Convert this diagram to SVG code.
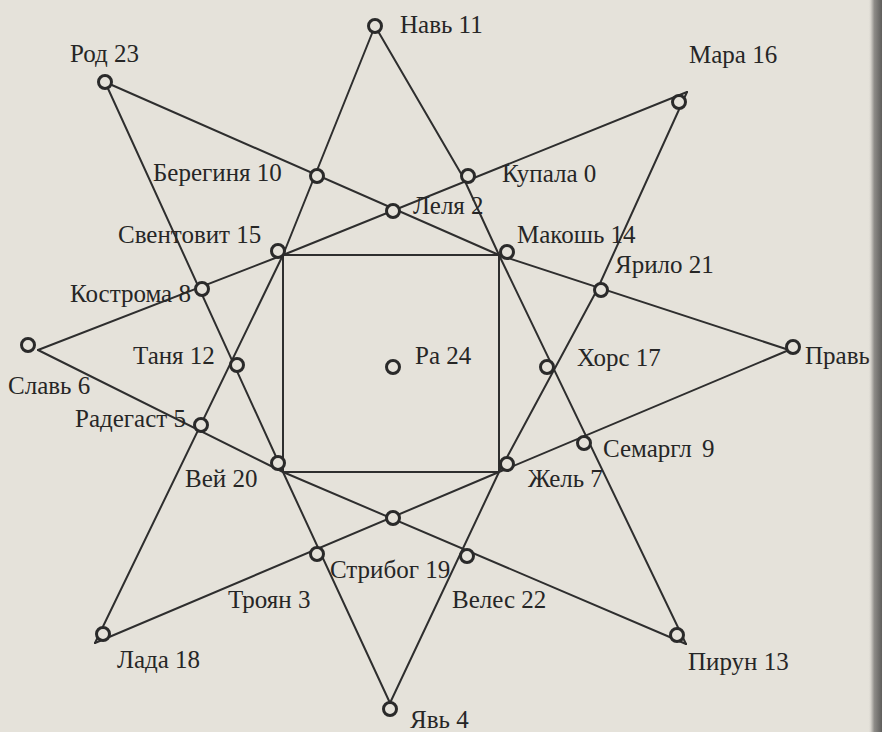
<svg xmlns="http://www.w3.org/2000/svg" width="882" height="732" viewBox="0 0 882 732">
<defs>
<linearGradient id="edge" x1="0" y1="0" x2="1" y2="0">
<stop offset="0" stop-color="#e5e2da" stop-opacity="0"/>
<stop offset="0.2" stop-color="#d4d1ca"/>
<stop offset="0.45" stop-color="#8e8c88"/>
<stop offset="1" stop-color="#5e5d5b"/>
</linearGradient>
<style>
.ln{fill:none;stroke:#2e2e2e;stroke-width:2;stroke-linejoin:round;stroke-linecap:round}
.nd{fill:#e5e2da;stroke:#2a2a2a;stroke-width:3}
.lb{font-family:"Liberation Serif","Times New Roman",serif;font-size:25px;fill:#262626}
</style>
</defs>
<rect x="0" y="0" width="882" height="732" fill="#e5e2da"/>
<g id="connectors">
<rect class="ln" x="283" y="255" width="216" height="217"/>
<polyline class="ln" points="105,82 499,255 789,350"/>
<polyline class="ln" points="375,26 283,255 95,643"/>
<polyline class="ln" points="375,26 463,177 499,255 686,644"/>
<polyline class="ln" points="687,92 283,255 38,350"/>
<polyline class="ln" points="687,92 597,290 499,472 390,703"/>
<polyline class="ln" points="789,350 499,472 95,643"/>
<polyline class="ln" points="686,644 283,472 38,350"/>
<polyline class="ln" points="390,703 283,472 105,82"/>
</g>
<g id="n-nav11"><circle class="nd" cx="375" cy="26" r="6.5"/><text class="lb" x="400" y="33">Навь 11</text></g>
<g id="n-rod23"><circle class="nd" cx="105" cy="82" r="6.5"/><text class="lb" x="70" y="62">Род 23</text></g>
<g id="n-mara16"><circle class="nd" cx="679" cy="102" r="6.5"/><text class="lb" x="689" y="63">Мара 16</text></g>
<g id="n-bereginya10"><circle class="nd" cx="317" cy="176" r="6.5"/><text class="lb" x="153" y="181">Берегиня 10</text></g>
<g id="n-kupala0"><circle class="nd" cx="468" cy="176" r="6.5"/><text class="lb" x="502" y="182">Купала 0</text></g>
<g id="n-lelya2"><circle class="nd" cx="393" cy="211" r="6.5"/><text class="lb" x="413" y="214">Леля 2</text></g>
<g id="n-sventovit15"><circle class="nd" cx="278" cy="251" r="6.5"/><text class="lb" x="118" y="243">Свентовит 15</text></g>
<g id="n-makosh14"><circle class="nd" cx="507" cy="252" r="6.5"/><text class="lb" x="517" y="243">Макошь 14</text></g>
<g id="n-yarilo21"><circle class="nd" cx="601" cy="290" r="6.5"/><text class="lb" x="615" y="273">Ярило 21</text></g>
<g id="n-kostroma8"><circle class="nd" cx="202" cy="289" r="6.5"/><text class="lb" x="70" y="302">Кострома 8</text></g>
<g id="n-slav6"><circle class="nd" cx="28" cy="345" r="6.5"/><text class="lb" x="8" y="394">Славь 6</text></g>
<g id="n-prav"><circle class="nd" cx="793" cy="347" r="6.5"/><text class="lb" x="805" y="364">Правь</text></g>
<g id="n-tanya12"><circle class="nd" cx="237" cy="365" r="6.5"/><text class="lb" x="133" y="364">Таня 12</text></g>
<g id="n-ra24"><circle class="nd" cx="393" cy="367" r="6.5"/><text class="lb" x="415" y="364">Ра 24</text></g>
<g id="n-khors17"><circle class="nd" cx="547" cy="367" r="6.5"/><text class="lb" x="577" y="366">Хорс 17</text></g>
<g id="n-radegast5"><circle class="nd" cx="201" cy="425" r="6.5"/><text class="lb" x="75" y="427">Радегаст 5</text></g>
<g id="n-semargl9"><circle class="nd" cx="584" cy="443" r="6.5"/><text class="lb" x="603" y="457">Семаргл<tspan x="702">9</tspan></text></g>
<g id="n-vey20"><circle class="nd" cx="278" cy="463" r="6.5"/><text class="lb" x="185" y="487">Вей 20</text></g>
<g id="n-zhel7"><circle class="nd" cx="507" cy="464" r="6.5"/><text class="lb" x="528" y="487">Жель 7</text></g>
<g id="n-center-bottom"><circle class="nd" cx="393" cy="518" r="6.5"/></g>
<g id="n-stribog19"><circle class="nd" cx="317" cy="554" r="6.5"/><text class="lb" x="330" y="578">Стрибог 19</text></g>
<g id="n-veles22"><circle class="nd" cx="467" cy="556" r="6.5"/><text class="lb" x="452" y="608">Велес 22</text></g>
<g id="n-troyan3"><text class="lb" x="228" y="608">Троян 3</text></g>
<g id="n-lada18"><circle class="nd" cx="103" cy="634" r="6.5"/><text class="lb" x="117" y="668">Лада 18</text></g>
<g id="n-pirun13"><circle class="nd" cx="677" cy="635" r="6.5"/><text class="lb" x="688" y="670">Пирун 13</text></g>
<g id="n-yav4"><circle class="nd" cx="390" cy="709" r="6.5"/><text class="lb" x="410" y="728">Явь 4</text></g>
<rect x="868" y="0" width="14" height="732" fill="url(#edge)"/>
</svg>
